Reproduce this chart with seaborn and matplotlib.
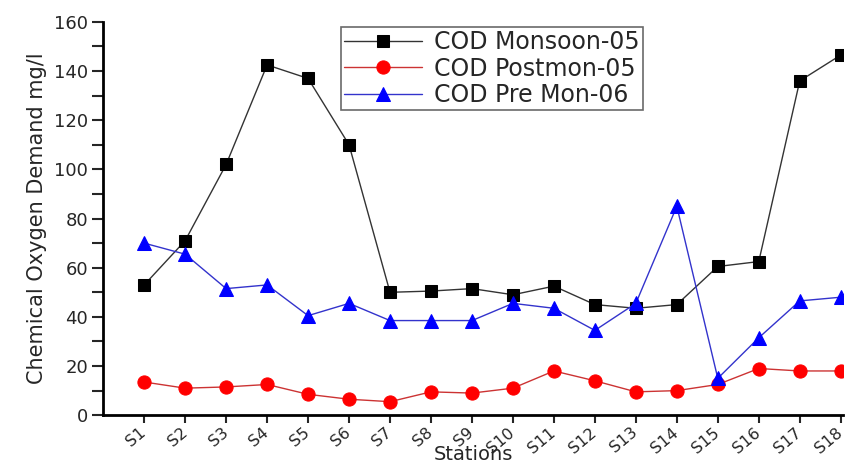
import matplotlib
matplotlib.use("Agg")
import matplotlib.pyplot as plt
import seaborn as sns
import pandas as pd
from matplotlib.ticker import MultipleLocator

stations = [f"S{i}" for i in range(1, 19)]
monsoon05 = [53, 71, 102, 142.5, 137, 110, 50, 50.5, 51.5, 49, 52.5, 45, 43.5, 45, 60.5, 62.5, 136, 146.5]
postmon05 = [13.5, 11, 11.5, 12.5, 8.5, 6.5, 5.5, 9.5, 9, 11, 18, 14, 9.5, 10, 12.5, 19, 18, 18]
premon06 = [70, 65.5, 51.5, 53, 40.5, 45.5, 38.5, 38.5, 38.5, 45.5, 43.5, 34.5, 45.5, 85, 15, 31.5, 46.5, 48]

series_names = ["COD Monsoon-05", "COD Postmon-05", "COD Pre Mon-06"]
series_vals = [monsoon05, postmon05, premon06]

rows = []
for name, vals in zip(series_names, series_vals):
    for i, v in enumerate(vals):
        rows.append({"pos": i + 1, "Station": stations[i], "value": v, "series": name})
df = pd.DataFrame(rows)

sns.set_style("white")
plt.rcParams["font.family"] = ["DejaVu Sans"]

fig = plt.figure(figsize=(8.53, 4.66), dpi=100)
ax = fig.add_axes([0.121, 0.109, 0.867, 0.844])

styles = {
    "COD Monsoon-05": dict(color="black", lc="#333333", marker="s", ms=8.5),
    "COD Postmon-05": dict(color="red", lc="#cc3333", marker="o", ms=9.5),
    "COD Pre Mon-06": dict(color="blue", lc="#3333cc", marker="^", ms=10.5),
}
for name in series_names:
    st = styles[name]
    sub = df[df["series"] == name]
    sns.lineplot(data=sub, x="pos", y="value", ax=ax, color=st["lc"], linewidth=1.0,
                 marker=st["marker"], markersize=st["ms"], markerfacecolor=st["color"],
                 markeredgecolor=st["color"], label=name, sort=False)

ax.set_xlim(0, 18.05)
ax.set_ylim(0, 160)
ax.set_xticks(range(1, 19))
ax.set_xticklabels(stations, rotation=40, fontsize=11.5, ha="right", va="center",
                   rotation_mode="anchor")
ax.yaxis.set_major_locator(MultipleLocator(20))
ax.yaxis.set_minor_locator(MultipleLocator(10))
ax.tick_params(axis="y", which="major", direction="out", length=8, width=1.5, labelsize=13, left=True, pad=3)
ax.tick_params(axis="y", which="minor", direction="out", length=8, width=1.5, left=True)
ax.tick_params(axis="x", which="major", direction="out", length=6, width=1.5, bottom=True, pad=5)

for s in ["top", "right"]:
    ax.spines[s].set_visible(False)
for s in ["left", "bottom"]:
    ax.spines[s].set_linewidth(2)
    ax.spines[s].set_color("black")

ax.set_xlabel("Stations", fontsize=14)
ax.xaxis.set_label_coords(0.5, -0.1145)
ax.xaxis.label.set_verticalalignment("baseline")
ax.set_ylabel("Chemical Oxygen Demand mg/l", fontsize=15, labelpad=5)

leg = ax.legend(loc="upper left", bbox_to_anchor=(0.315, 1.0), fontsize=17,
                frameon=True, fancybox=False, edgecolor="#444444", handlelength=3.3,
                borderpad=0.15, labelspacing=0.1, handletextpad=0.5, borderaxespad=0.2)
leg.get_frame().set_linewidth(1.2)

fig.savefig("out.png", dpi=100)
